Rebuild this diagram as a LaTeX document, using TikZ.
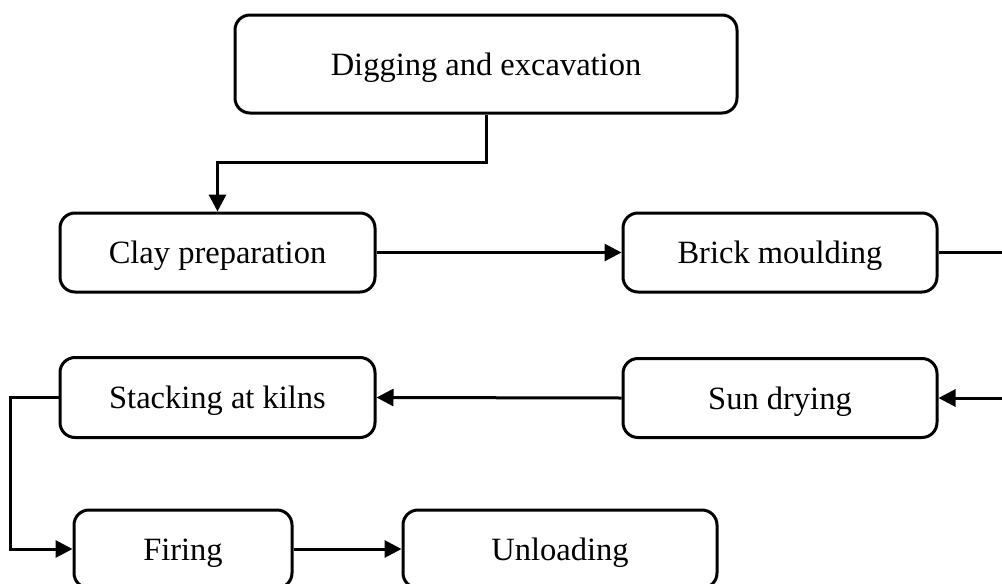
\documentclass[tikz,border=0pt]{standalone}
\usepackage{fontspec}
\setmainfont{Liberation Serif}
\usetikzlibrary{arrows.meta}
\begin{document}
\begin{tikzpicture}[x=1pt,y=-1pt,
  box/.style={draw,line width=3pt,rounded corners=15pt,font=\fontsize{32.5}{38}\selectfont,inner sep=0pt,text height=24pt,text depth=2pt},
  conn/.style={line width=3pt},
  arr/.style={conn,-{Triangle[length=17pt,width=17pt]}}]
\useasboundingbox (0,0) rectangle (1002,584);
\node[box,minimum width=502pt,minimum height=98pt] (dig) at (486,64) {Digging and excavation};
\node[box,minimum width=315pt,minimum height=79pt] (clay) at (217.5,252.5) {Clay preparation};
\node[box,minimum width=314pt,minimum height=79pt] (brick) at (780,252.5) {Brick moulding};
\node[box,minimum width=315pt,minimum height=80pt] (stack) at (217.5,397.5) {Stacking at kilns};
\node[box,minimum width=314pt,minimum height=79pt] (sun) at (780,398) {Sun drying};
\node[box,minimum width=218pt,minimum height=78pt] (fire) at (183,549) {Firing};
\node[box,minimum width=314pt,minimum height=78pt] (unload) at (560,549) {Unloading};
\coordinate (r1) at (1004,252.5);
\coordinate (r2) at (1004,398);
\draw[arr] (dig.south) -- ++(0,48) -| (clay.north);
\draw[arr] (clay.east) -- (brick.west);
\draw[conn] (brick.east) -- (r1);
\draw[arr] (r2) -- (sun.east);
\draw[arr] (sun.west) -- (stack.east);
\draw[arr] (stack.west) -- ++(-48,0) |- (fire.west);
\draw[arr] (fire.east) -- (unload.west);
\end{tikzpicture}
\end{document}
